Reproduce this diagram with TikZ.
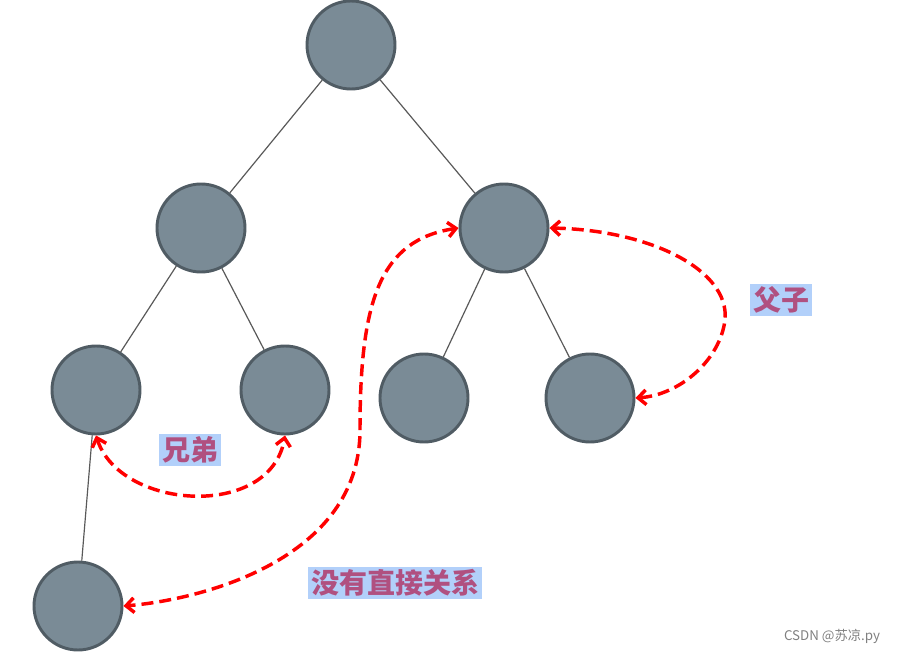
\documentclass[tikz,border=0pt]{standalone}
\usepackage{fontspec}
\setmainfont{Liberation Sans}
\newfontfamily\cjk{Noto Sans CJK SC}
\usetikzlibrary{arrows.meta}
\definecolor{nodefill}{RGB}{122,139,150}
\definecolor{nodeline}{RGB}{80,92,100}
\definecolor{labelbg}{RGB}{178,208,250}
\definecolor{labeltext}{RGB}{176,80,128}
\tikzset{every picture/.style={line width=0.75pt},
  treenode/.style={circle,draw=nodeline,fill=nodefill,line width=2.2pt,minimum size=66,inner sep=0pt},
  edge/.style={draw=black!65,line width=0.9pt},
  relation/.style={draw=red,line width=2.6pt,dash pattern=on 9pt off 4.5pt,{Straight Barb[length=6pt,width=11pt]}-{Straight Barb[length=6pt,width=11pt]}},
  tag/.style={fill=labelbg,text=labeltext,font=\cjk\bfseries\fontsize{21}{24}\selectfont,inner sep=2pt}}
\begin{document}
\begin{tikzpicture}[x=0.75pt,y=0.75pt,yscale=-1]
\useasboundingbox (0,0) rectangle (899,652);
% tree nodes
\node [treenode] (root) at (351,45) {};
\node [treenode] (a) at (201,228) {};
\node [treenode] (b) at (504,228) {};
\node [treenode] (aa) at (96,390) {};
\node [treenode] (ab) at (285,390) {};
\node [treenode] (ba) at (424,398) {};
\node [treenode] (bb) at (590,398) {};
\node [treenode] (aaa) at (78,606) {};
% edges
\draw [edge] (root) -- (a);
\draw [edge] (root) -- (b);
\draw [edge] (a) -- (aa);
\draw [edge] (a) -- (ab);
\draw [edge] (b) -- (ba);
\draw [edge] (b) -- (bb);
\draw [edge] (aa) -- (aaa);
% relations
\draw [relation] (aa.south) .. controls (120,510) and (270,520) .. (ab.south);
\draw [relation] (b.east) .. controls (650,230) and (730,270) .. (725,320) .. controls (720,360) and (680,395) .. (bb.east);
\draw [relation] (b.west) .. controls (380,240) and (360,300) .. (360,430) .. controls (360,560) and (200,600) .. (aaa.east);
% labels
\node [tag] (father) at (781,300) {父子};
\node [tag] (brother) at (190,450) {兄弟};
\node [tag] (none) at (395,583) {没有直接关系};
\node [text=black!50,font=\cjk\fontsize{10}{12}\selectfont,anchor=east] (mark) at (885,636) {CSDN @苏凉.py};
\end{tikzpicture}
\end{document}
